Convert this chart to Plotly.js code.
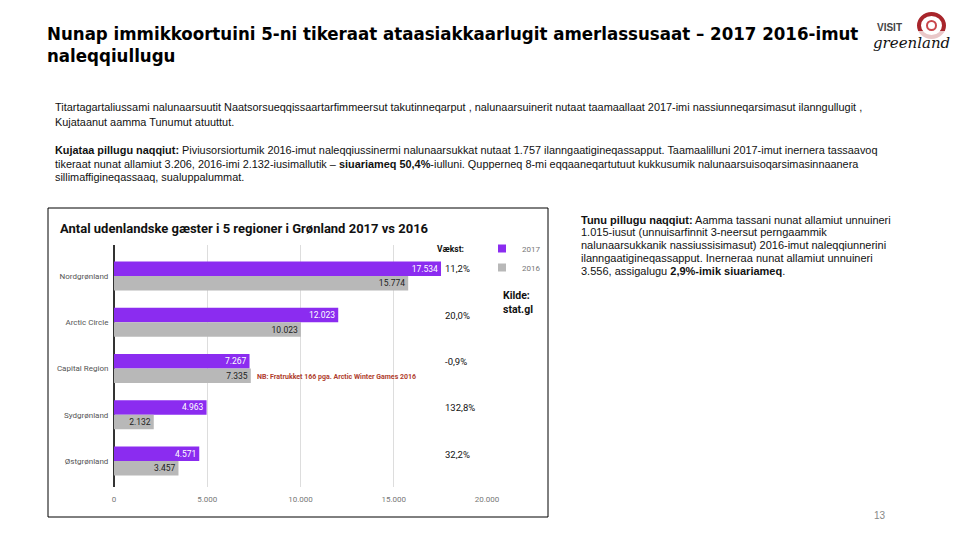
<!DOCTYPE html>
<html>
<head>
<meta charset="utf-8">
<script src="https://cdn.plot.ly/plotly-3.0.1.min.js"></script>
<style>
html,body{margin:0;padding:0;background:#fff;}
#chart{width:960px;height:540px;}
</style>
</head>
<body>
<div id="chart"></div>
<script>
// ---- data ----
var categories = ['Nordgrønland', 'Arctic Circle', 'Capital Region', 'Sydgrønland', 'Østgrønland'];
var values2017 = [17534, 12023, 7267, 4963, 4571];
var values2016 = [15774, 10023, 7335, 2132, 3457];
var growthLabels = ['11,2%', '20,0%', '-0,9%', '132,8%', '32,2%'];
var xTickValues = [0, 5000, 10000, 15000, 20000];
var seriesNames = ['2017', '2016'];

var slideTitleLines = [
  'Nunap immikkoortuini 5-ni tikeraat ataasiakkaarlugit amerlassusaat – 2017 2016-imut',
  'naleqqiullugu'
];
var introLines = [
  'Titartagartaliussami nalunaarsuutit Naatsorsueqqissaartarfimmeersut takutinneqarput , nalunaarsuinerit nutaat taamaallaat 2017-imi nassiunneqarsimasut ilanngullugit ,',
  'Kujataanut aamma Tunumut atuuttut.'
];
var southLines = [
  '<b>Kujataa pillugu naqqiut:</b> Piviusorsiortumik 2016-imut naleqqiussinermi nalunaarsukkat nutaat 1.757 ilanngaatigineqassapput. Taamaalilluni 2017-imut inernera tassaavoq',
  'tikeraat nunat allamiut 3.206, 2016-imi 2.132-iusimallutik – <b>siuariameq 50,4%</b>-iulluni. Qupperneq 8-mi eqqaaneqartutuut kukkusumik nalunaarsuisoqarsimasinnaanera',
  'sillimaffigineqassaaq, sualuppalummat.'
];
var eastLines = [
  '<b>Tunu pillugu naqqiut:</b> Aamma tassani nunat allamiut unnuineri',
  '1.015-iusut (unnuisarfinnit 3-neersut perngaammik',
  'nalunaarsukkanik nassiussisimasut) 2016-imut naleqqiunnerini',
  'ilanngaatigineqassapput. Inerneraa nunat allamiut unnuineri',
  '3.556, assigalugu <b>2,9%-imik siuariameq</b>.'
];
var chartTitle = 'Antal udenlandske gæster i 5 regioner i Grønland 2017 vs 2016';
var noteText = 'NB: Fratrukket 166 pga. Arctic Winter Games 2016';
var growthHeader = 'Vækst:';
var sourceText = 'Kilde:<br>stat.gl';
var pageNumber = '13';

// ---- styling ----
var PURPLE = '#8b2cf0';
var GRAY = '#b8b8b8';
var W = 960, H = 540;
function px(x) { return x / W; }
function py(y) { return 1 - y / H; }

var chartFont = 'Roboto, Arial, sans-serif';
var bodyFont = '"Liberation Sans", Arial, sans-serif';
var titleFont = '"Liberation Sans Narrow", "Arial Narrow", "DejaVu Sans Condensed", sans-serif';

var traces = [
  {
    type: 'bar', orientation: 'h', name: seriesNames[0],
    y: categories, x: values2017,
    marker: {color: PURPLE},
    texttemplate: '%{x:,}', textposition: 'inside', insidetextanchor: 'end',
    textangle: 0, constraintext: 'none',
    insidetextfont: {family: chartFont, size: 8.5, color: '#ffffff'},
    showlegend: false, hoverinfo: 'skip'
  },
  {
    type: 'bar', orientation: 'h', name: seriesNames[1],
    y: categories, x: values2016,
    marker: {color: GRAY},
    texttemplate: '%{x:,}', textposition: 'inside', insidetextanchor: 'end',
    textangle: 0, constraintext: 'none',
    insidetextfont: {family: chartFont, size: 8.5, color: '#222222'},
    showlegend: false, hoverinfo: 'skip'
  },
  // legend entries (small square swatches like the reference)
  {type: 'scatter', mode: 'markers', name: seriesNames[0], x: [null], y: [null],
   marker: {symbol: 'square', size: 8, color: PURPLE}, hoverinfo: 'skip'},
  {type: 'scatter', mode: 'markers', name: seriesNames[1], x: [null], y: [null],
   marker: {symbol: 'square', size: 8, color: GRAY}, hoverinfo: 'skip'}
];

var annotations = [];
function addLine(text, x, y, font, extra) {
  var a = {text: text, xref: 'paper', yref: 'paper', x: px(x), y: py(y),
           xanchor: 'left', yanchor: 'middle', showarrow: false, align: 'left', font: font};
  if (extra) for (var k in extra) a[k] = extra[k];
  annotations.push(a);
}

var titleFontObj = {family: titleFont, size: 18.5, color: '#000000'};
addLine('<b>' + slideTitleLines[0] + '</b>', 45, 33, titleFontObj);
addLine('<b>' + slideTitleLines[1] + '</b>', 45, 55, titleFontObj);

var introY = [107, 122];
introLines.forEach(function (t, i) { addLine(t, 53, introY[i], {family: bodyFont, size: 10.9, color: '#111'}); });
var southY = [150, 164, 177];
southLines.forEach(function (t, i) { addLine(t, 53, southY[i], {family: bodyFont, size: 10.9, color: '#111'}); });
var eastY = [220, 232, 245, 258, 271];
eastLines.forEach(function (t, i) { addLine(t, 579, eastY[i], {family: bodyFont, size: 11, color: '#111'}); });

// chart texts
addLine('<b>' + chartTitle + '</b>', 58, 228, {family: chartFont, size: 13, color: '#111'});
addLine('<b>' + growthHeader + '</b>', 435, 249, {family: chartFont, size: 8.5, color: '#111'});
addLine('<b>' + sourceText + '</b>', 501, 302, {family: chartFont, size: 10.5, color: '#111'});
addLine('<b>' + noteText + '</b>', 255, 377, {family: chartFont, size: 7, color: '#b0402e'});
growthLabels.forEach(function (g, i) {
  annotations.push({text: g, xref: 'paper', yref: 'y', x: px(443), y: categories[i],
    xanchor: 'left', yanchor: 'middle', yshift: 7, showarrow: false,
    font: {family: chartFont, size: 9.5, color: '#111'}});
});

// page number and logo text
annotations.push({text: pageNumber, xref: 'paper', yref: 'paper', x: px(880), y: py(515),
  xanchor: 'center', yanchor: 'middle', showarrow: false,
  font: {family: bodyFont, size: 10, color: '#888'}});
annotations.push({text: '<b>VISIT</b>', xref: 'paper', yref: 'paper', x: px(875), y: py(28),
  xanchor: 'left', yanchor: 'middle', showarrow: false,
  font: {family: bodyFont, size: 10, color: '#444'}});
annotations.push({text: '<i>greenland</i>', xref: 'paper', yref: 'paper', x: px(871), y: py(43),
  xanchor: 'left', yanchor: 'middle', showarrow: false,
  font: {family: '"DejaVu Serif", serif', size: 15, color: '#111'}});

var shapes = [
  // chart border
  {type: 'rect', xref: 'paper', yref: 'paper', x0: px(48), x1: px(548), y0: py(517), y1: py(208),
   line: {color: '#000', width: 1}, fillcolor: 'rgba(0,0,0,0)', layer: 'above'},
  // logo emblem
  {type: 'circle', xref: 'paper', yref: 'paper', x0: px(919), x1: px(944), y0: py(37), y1: py(14),
   line: {color: '#a8252b', width: 4}, fillcolor: 'rgba(0,0,0,0)'},
  {type: 'circle', xref: 'paper', yref: 'paper', x0: px(927), x1: px(936), y0: py(30), y1: py(21),
   line: {color: '#c9474c', width: 2}, fillcolor: 'rgba(0,0,0,0)'},
  {type: 'rect', xref: 'paper', yref: 'paper', x0: px(915), x1: px(948), y0: py(40), y1: py(31),
   line: {width: 0}, fillcolor: 'rgba(255,255,255,0.75)'}
];

var layout = {
  width: W, height: H,
  margin: {l: 0, r: 0, t: 0, b: 0, autoexpand: false},
  paper_bgcolor: '#ffffff', plot_bgcolor: '#ffffff',
  separators: ',.',
  barmode: 'group', bargap: 0.37, bargroupgap: 0,
  font: {family: chartFont},
  xaxis: {
    domain: [px(114), px(487)], range: [0, 20000],
    tickvals: xTickValues, tickformat: ',', ticks: '',
    showgrid: true, gridcolor: '#dddddd', gridwidth: 1,
    zeroline: true, zerolinecolor: '#333333', zerolinewidth: 1,
    showline: false, automargin: false, fixedrange: true,
    tickfont: {family: chartFont, size: 8, color: '#777'},
    ticklabelstandoff: 6
  },
  yaxis: {
    domain: [py(487), py(245)], range: [4.562, -0.67],
    type: 'category', ticks: '', showgrid: false, zeroline: false,
    showline: true, linecolor: '#333333', linewidth: 1,
    automargin: false, fixedrange: true,
    tickfont: {family: chartFont, size: 8, color: '#555'},
    ticklabelstandoff: 3
  },
  showlegend: true,
  legend: {
    x: px(482), y: py(234), xanchor: 'left', yanchor: 'top',
    font: {family: chartFont, size: 8, color: '#777'},
    bgcolor: 'rgba(0,0,0,0)', itemwidth: 30, tracegroupgap: 0,
    traceorder: 'normal'
  },
  annotations: annotations,
  shapes: shapes
};

Plotly.newPlot('chart', traces, layout, {displayModeBar: false, staticPlot: true});
</script>
</body>
</html>
